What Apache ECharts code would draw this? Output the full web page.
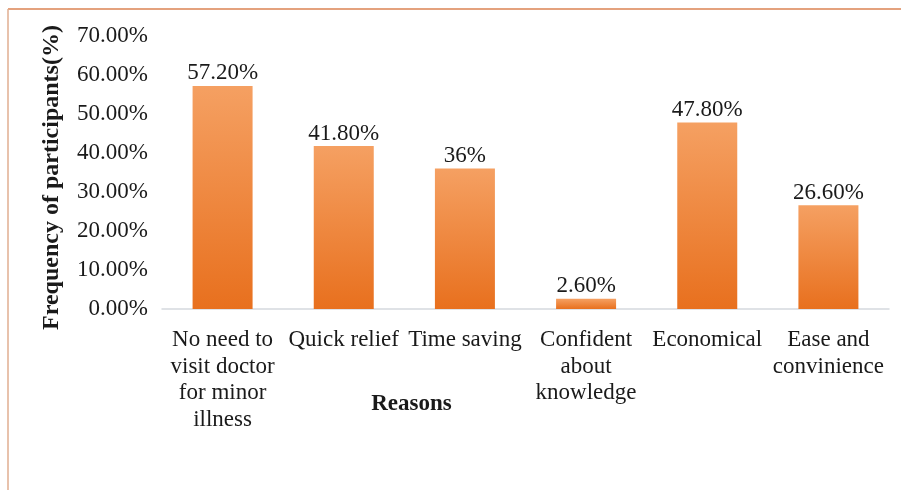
<!DOCTYPE html>
<html>
<head>
<meta charset="utf-8">
<script src="https://cdn.jsdelivr.net/npm/echarts@6/dist/echarts.min.js"></script>
<style>
  html, body { margin: 0; padding: 0; background: #fff; }
  #chart { width: 901px; height: 490px; }
</style>
</head>
<body>
<div id="chart"></div>
<script>
// Reasons for self-medication and share of participants citing each
const categories = [
  'No need to\nvisit doctor\nfor minor\nillness',
  'Quick relief',
  'Time saving',
  'Confident\nabout\nknowledge',
  'Economical',
  'Ease and\nconvinience'
];
const values = [57.2, 41.8, 36, 2.6, 47.8, 26.6];
// decimals used when printing each bar's value label
const labelDecimals = [2, 2, 0, 2, 2, 2];
const yTicks = [0, 10, 20, 30, 40, 50, 60, 70];

const serif = '"Liberation Serif", "Times New Roman", serif';
const chart = echarts.init(document.getElementById('chart'));

chart.setOption({
  backgroundColor: '#fff',
  animation: false,
  grid: { left: 162, right: 12, top: 36, bottom: 181 },
  graphic: [
    { type: 'line', shape: { x1: 8, y1: 9, x2: 901, y2: 9 },
      style: { stroke: '#E4A27E', lineWidth: 2 } },
    { type: 'line', shape: { x1: 8, y1: 9, x2: 8, y2: 490 },
      style: { stroke: '#E0AE90', lineWidth: 1.5 } }
  ],
  xAxis: {
    type: 'category',
    data: categories,
    name: 'Reasons',
    nameLocation: 'middle',
    nameGap: 84,
    nameMoveOverlap: false,
    nameTextStyle: {
      fontFamily: serif, fontSize: 23, fontWeight: 'bold', color: '#1a1a1a',
      padding: [0, 228, 0, 0]
    },
    axisLine: { lineStyle: { color: '#D5D9DE', width: 1.5 } },
    axisTick: { show: false },
    axisLabel: {
      interval: 0, margin: 18,
      fontFamily: serif, fontSize: 23, lineHeight: 26.5, color: '#1a1a1a',
      align: 'center', verticalAlign: 'top'
    }
  },
  yAxis: {
    type: 'value',
    min: yTicks[0],
    max: yTicks[yTicks.length - 1],
    interval: yTicks[1] - yTicks[0],
    name: 'Frequency of participants(%)',
    nameLocation: 'middle',
    nameGap: 98,
    nameMoveOverlap: false,
    nameTextStyle: {
      fontFamily: serif, fontSize: 24, fontWeight: 'bold', color: '#1a1a1a',
      padding: [0, 10, 0, 0]
    },
    axisLine: { show: false },
    axisTick: { show: false },
    splitLine: { show: false },
    axisLabel: {
      margin: 14,
      fontFamily: serif, fontSize: 23, color: '#1a1a1a',
      formatter: v => v.toFixed(2) + '%'
    }
  },
  series: [{
    type: 'bar',
    data: values,
    barWidth: 60,
    itemStyle: {
      color: new echarts.graphic.LinearGradient(0, 0, 0, 1, [
        { offset: 0, color: '#F5A062' },
        { offset: 1, color: '#E8701E' }
      ])
    },
    label: {
      show: true,
      position: 'top',
      distance: 1,
      fontFamily: serif, fontSize: 23, color: '#1a1a1a',
      formatter: p => p.value.toFixed(labelDecimals[p.dataIndex]) + '%'
    }
  }]
});
</script>
</body>
</html>
